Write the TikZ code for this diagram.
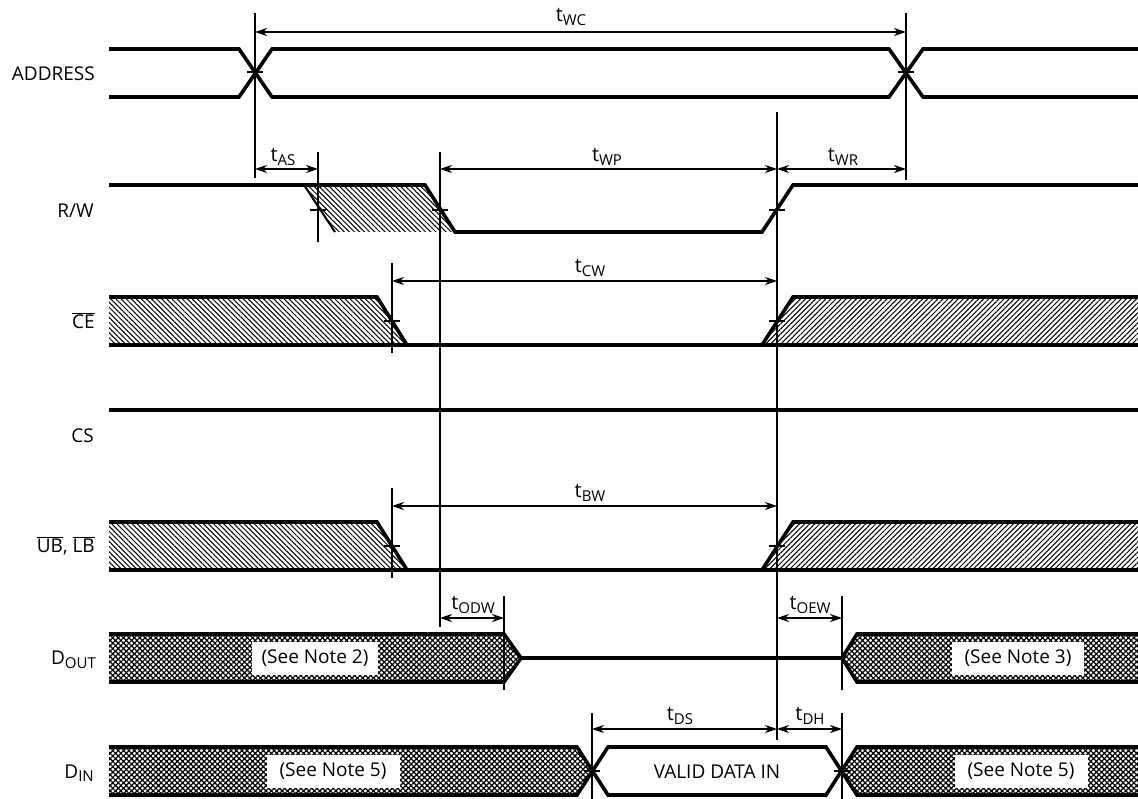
\documentclass[tikz,border=0pt]{standalone}
\usepackage{fontspec}
\setmainfont{Open Sans}
\usetikzlibrary{arrows.meta,patterns.meta}
\newcommand{\tsub}[1]{t\raisebox{-0.35ex}{\fontsize{15}{15}\selectfont #1}}
\begin{document}
\begin{tikzpicture}[x=1pt,y=-1pt,
  sig/.style={line width=3.6pt,line join=miter},
  guide/.style={line width=1.3pt},
  dim/.style={line width=1.3pt,{Stealth[length=12pt,width=8pt,inset=4pt]}-{Stealth[length=12pt,width=8pt,inset=4pt]}},
  tick/.style={line width=1.3pt},
  hatchL/.style={pattern={Lines[angle=-45,distance=3.6pt,line width=1pt]}},
  hatchR/.style={pattern={Lines[angle=45,distance=3.6pt,line width=1pt]}},
  xhatch/.style={pattern={Hatch[angle=45,distance=3.8pt,line width=1.2pt]}},
  lbl/.style={anchor=east,font=\fontsize{19}{21}\selectfont,inner sep=0pt},
  tl/.style={font=\fontsize{20}{22}\selectfont,inner sep=0pt},
  note/.style={fill=white,font=\fontsize{19}{21}\selectfont,inner sep=0pt,minimum height=33pt}]
\useasboundingbox (0,0) rectangle (1138,799);

% guide coordinates
\coordinate (a1) at (255,13);  \coordinate (a1b) at (255,178);
\coordinate (a2) at (906,13);  \coordinate (a2b) at (906,180);
\coordinate (s1) at (318,152); \coordinate (s1b) at (318,242);
\coordinate (p1) at (440,152); \coordinate (p1b) at (440,627);
\coordinate (p2) at (777,112); \coordinate (p2b) at (777,740);
\coordinate (c1) at (392,263); \coordinate (c1b) at (392,353);
\coordinate (u1) at (392,488); \coordinate (u1b) at (392,578);
\coordinate (o1) at (504,596); \coordinate (o1b) at (504,690);
\coordinate (o2) at (842,596); \coordinate (o2b) at (842,690);
\coordinate (d1) at (592,713); \coordinate (d1b) at (592,799);
\coordinate (d2) at (842,713); \coordinate (d2b) at (842,799);

% labels
\node[lbl] (lAddr) at (95,74) {ADDRESS};
\node[lbl] (lRW) at (94,211) {R/W};
\node[lbl] (lCE) at (95,321) {$\overline{\mbox{CE}}$};
\node[lbl] (lCS) at (94,436) {CS};
\node[lbl] (lUB) at (95,546) {$\overline{\mbox{UB}}$, $\overline{\mbox{LB}}$};
\node[lbl] (lDo) at (96,660) {D\raisebox{-0.35ex}{\fontsize{15}{15}\selectfont OUT}};
\node[lbl] (lDi) at (94,773) {D\raisebox{-0.35ex}{\fontsize{15}{15}\selectfont IN}};

% ADDRESS
\draw[sig] (109,49)--(239,49)--(272,97)--(889,97)--(923,49)--(1138,49);
\draw[sig] (109,97)--(239,97)--(272,49)--(889,49)--(923,97)--(1138,97);

% R/W
\fill[hatchL] (304,185)--(425,185)--(455,232)--(335,232)--cycle;
\draw[line width=2pt] (304,185)--(335,232);
\draw[sig] (109,185)--(425,185)--(455,232)--(762,232)--(793,185)--(1138,185);

% CE
\fill[hatchL] (109,297)--(377,297)--(407,345)--(109,345)--cycle;
\fill[hatchR] (762,345)--(793,297)--(1138,297)--(1138,345)--cycle;
\draw[sig] (109,297)--(377,297)--(407,345);
\draw[sig] (109,345)--(1138,345);
\draw[sig] (762,345)--(793,297)--(1138,297);

% CS
\draw[sig] (109,410)--(1138,410);

% UB, LB
\fill[hatchL] (109,522)--(377,522)--(407,570)--(109,570)--cycle;
\fill[hatchR] (762,570)--(793,522)--(1138,522)--(1138,570)--cycle;
\draw[sig] (109,522)--(377,522)--(407,570);
\draw[sig] (109,570)--(1138,570);
\draw[sig] (762,570)--(793,522)--(1138,522);

% D_OUT
\fill[xhatch] (109,634)--(504,634)--(521,658)--(504,682)--(109,682)--cycle;
\fill[xhatch] (842,658)--(857,634)--(1138,634)--(1138,682)--(857,682)--cycle;
\draw[sig] (109,634)--(504,634)--(521,658)--(504,682)--(109,682);
\draw[sig] (521,658)--(842,658);
\draw[sig] (1138,634)--(857,634)--(842,658)--(857,682)--(1138,682);
\node[note,minimum width=126pt] (n2) at (315,658) {(See Note 2)};
\node[note,minimum width=132pt] (n3) at (1018,658) {(See Note 3)};

% D_IN
\fill[xhatch] (109,747)--(577,747)--(592,771)--(577,795)--(109,795)--cycle;
\fill[xhatch] (842,771)--(857,747)--(1138,747)--(1138,795)--(857,795)--cycle;
\draw[sig] (109,747)--(577,747)--(608,795)--(826,795)--(857,747)--(1138,747);
\draw[sig] (109,795)--(577,795)--(608,747)--(826,747)--(857,795)--(1138,795);
\node[note,minimum width=133pt] (n5a) at (333,771) {(See Note 5)};
\node[note,minimum width=133pt] (n5b) at (1021,771) {(See Note 5)};
\node[note,fill=none] (valid) at (717,772) {VALID DATA IN};

% guide lines
\foreach \a/\b in {a1/a1b,a2/a2b,s1/s1b,p1/p1b,p2/p2b,c1/c1b,u1/u1b,o1/o1b,o2/o2b,d1/d1b,d2/d2b}
  \draw[guide] (\a)--(\b);

% ticks
\foreach \x/\y in {255/72,906/72,318/210,440/210,777/210,392/321,777/321,392/546,777/546,592/771,842/771}
  \draw[tick] (\x-8,\y)--(\x+8,\y);

% dimension arrows
\draw[dim] (a1|-0,32)--(a2|-0,32);
\draw[dim] (a1|-0,169)--(s1|-0,169);
\draw[dim] (p1|-0,169)--(p2|-0,169);
\draw[dim] (p2|-0,169)--(a2|-0,169);
\draw[dim] (c1|-0,281)--(p2|-0,281);
\draw[dim] (u1|-0,506)--(p2|-0,506);
\draw[dim] (p1|-0,618)--(o1|-0,618);
\draw[dim] (p2|-0,618)--(o2|-0,618);
\draw[dim] (d1|-0,729)--(p2|-0,729);
\draw[dim] (p2|-0,729)--(d2|-0,729);

% timing labels
\node[tl] (tWC) at (571,17) {\tsub{WC}};
\node[tl] (tAS) at (283,157) {\tsub{AS}};
\node[tl] (tWP) at (607,157) {\tsub{WP}};
\node[tl] (tWR) at (843,157) {\tsub{WR}};
\node[tl] (tCW) at (590,268) {\tsub{CW}};
\node[tl] (tBW) at (590,493) {\tsub{BW}};
\node[tl] (tODW) at (473,605) {\tsub{ODW}};
\node[tl] (tOEW) at (810,605) {\tsub{OEW}};
\node[tl] (tDS) at (680,716) {\tsub{DS}};
\node[tl] (tDH) at (810,716) {\tsub{DH}};
\end{tikzpicture}
\end{document}
